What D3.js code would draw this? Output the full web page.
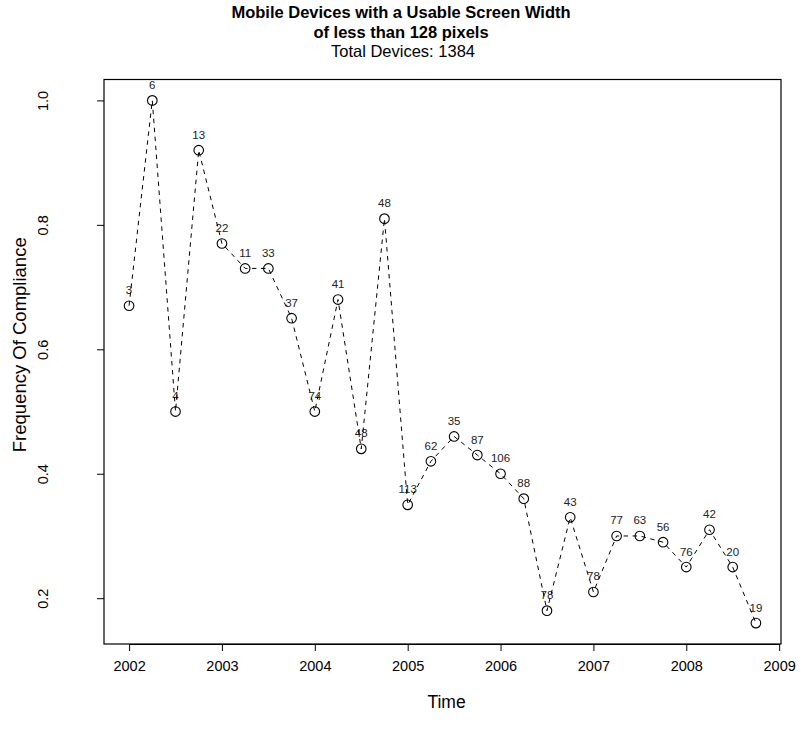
<!DOCTYPE html>
<html>
<head>
<meta charset="utf-8">
<script src="https://cdn.jsdelivr.net/npm/d3@7"></script>
<style>
  html, body { margin: 0; padding: 0; background: #fff; }
  svg { display: block; font-family: "Liberation Sans", Arial, Helvetica, sans-serif; }
</style>
</head>
<body>
<svg id="chart" width="801" height="742"></svg>
<script>
// Quarterly observations, 2002 Q1 to 2008 Q4
const times = [2002.00, 2002.25, 2002.50, 2002.75, 2003.00, 2003.25, 2003.50, 2003.75,
               2004.00, 2004.25, 2004.50, 2004.75, 2005.00, 2005.25, 2005.50, 2005.75,
               2006.00, 2006.25, 2006.50, 2006.75, 2007.00, 2007.25, 2007.50, 2007.75,
               2008.00, 2008.25, 2008.50, 2008.75];
// Share of devices that comply in each quarter
const compliance = [0.67, 1.00, 0.50, 0.92, 0.77, 0.73, 0.73, 0.65,
                    0.50, 0.68, 0.44, 0.81, 0.35, 0.42, 0.46, 0.43,
                    0.40, 0.36, 0.18, 0.33, 0.21, 0.30, 0.30, 0.29,
                    0.25, 0.31, 0.25, 0.16];
// Number of devices in each quarter
const deviceCounts = [3, 6, 4, 13, 22, 11, 33, 37,
                      74, 41, 48, 48, 113, 62, 35, 87,
                      106, 88, 78, 43, 78, 77, 63, 56,
                      76, 42, 20, 19];
const xTicks = [2002, 2003, 2004, 2005, 2006, 2007, 2008, 2009];
const yTicks = [0.2, 0.4, 0.6, 0.8, 1.0];
const titleLines = ["Mobile Devices with a Usable Screen Width", "of less than 128 pixels"];
const subtitle = "Total Devices: 1384";

const svg = d3.select("#chart");
const box = { left: 104, right: 781, top: 79.5, bottom: 644 };

// Axis ranges padded by 4% of the data span on each side
const xMin = d3.min(times), xMax = d3.max(times);
const yMin = d3.min(compliance), yMax = d3.max(compliance);
const xPad = (xMax - xMin) * 0.04, yPad = (yMax - yMin) * 0.04;

const x = d3.scaleLinear().domain([xMin - xPad, xMax + xPad]).range([box.left, box.right]);
const y = d3.scaleLinear().domain([yMin - yPad, yMax + yPad]).range([box.bottom, box.top]);

const data = times.map((t, i) => ({ t, v: compliance[i], n: deviceCounts[i] }));

// Device counts above each point
svg.append("g").selectAll("text")
  .data(data)
  .join("text")
  .attr("x", d => x(d.t))
  .attr("y", d => y(d.v) - 11.5)
  .attr("text-anchor", "middle")
  .attr("font-size", 11.5)
  .attr("fill", "#222")
  .text(d => d.n);

// Dashed connecting line
svg.append("path")
  .datum(data)
  .attr("fill", "none")
  .attr("stroke", "#000")
  .attr("stroke-width", 1)
  .attr("stroke-dasharray", "4.5,4.5")
  .attr("d", d3.line().x(d => x(d.t)).y(d => y(d.v)));

// Open circle markers
svg.append("g").selectAll("circle")
  .data(data)
  .join("circle")
  .attr("cx", d => x(d.t))
  .attr("cy", d => y(d.v))
  .attr("r", 4.8)
  .attr("fill", "none")
  .attr("stroke", "#000")
  .attr("stroke-width", 1.1);

// Bottom axis
const xAxis = d3.axisBottom(x).tickValues(xTicks).tickFormat(d3.format("d")).tickSizeOuter(0).tickSize(7).tickPadding(10);
const gx = svg.append("g").attr("transform", `translate(0,${box.bottom})`).call(xAxis);
gx.select(".domain").attr("d", `M${x(xTicks[0])},0.5H${x(xTicks[xTicks.length - 1])}`);
gx.selectAll("text").attr("font-size", 14.5).attr("font-family", "Liberation Sans, Arial, sans-serif").attr("fill", "#000");

// Left axis with labels turned parallel to the axis
const yAxis = d3.axisLeft(y).tickValues(yTicks).tickFormat(d3.format(".1f")).tickSizeOuter(0).tickSize(7);
const gy = svg.append("g").attr("transform", `translate(${box.left},0)`).call(yAxis);
gy.select(".domain").remove();
gy.selectAll(".tick text")
  .attr("font-size", 14.5)
  .attr("font-family", "Liberation Sans, Arial, sans-serif")
  .attr("fill", "#000")
  .attr("text-anchor", "middle")
  .attr("x", 0).attr("y", 0).attr("dy", "0.35em")
  .attr("transform", "translate(-61,0) rotate(-90)");

// Plot frame
svg.append("rect")
  .attr("x", box.left).attr("y", box.top)
  .attr("width", box.right - box.left).attr("height", box.bottom - box.top)
  .attr("fill", "none").attr("stroke", "#000").attr("stroke-width", 1.2);

// Titles
svg.append("g").selectAll("text")
  .data(titleLines)
  .join("text")
  .attr("x", 401)
  .attr("y", (d, i) => 18 + i * 20)
  .attr("text-anchor", "middle")
  .attr("font-size", 16.5)
  .attr("font-weight", "bold")
  .text(d => d);

svg.append("text")
  .attr("x", 403).attr("y", 57)
  .attr("text-anchor", "middle")
  .attr("font-size", 16.5)
  .text(subtitle);

svg.append("text")
  .attr("x", (box.left + box.right) / 2 + 4).attr("y", 708)
  .attr("text-anchor", "middle")
  .attr("font-size", 17.5)
  .text("Time");

svg.append("text")
  .attr("transform", `translate(26,${(box.top + box.bottom) / 2 - 17}) rotate(-90)`)
  .attr("text-anchor", "middle")
  .attr("font-size", 18.5)
  .text("Frequency Of Compliance");
</script>
</body>
</html>
